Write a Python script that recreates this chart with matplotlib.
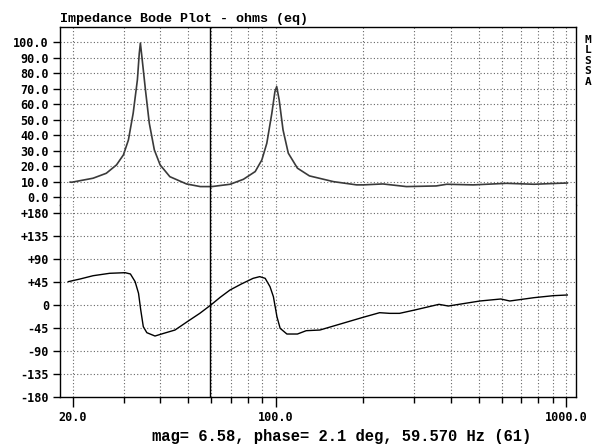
"""
Impedance Bode plot (MLSSA style)
"""

import matplotlib
matplotlib.use('Agg')
import matplotlib.pyplot as plt
from matplotlib.ticker import FixedLocator, FixedFormatter, NullFormatter

# magnitude curve, ohms
mag_freq = [19.6, 19.85, 23.5, 26.1, 28.3, 29.9, 31.1, 32.3, 33.4, 33.9, 34.2,
            34.6, 35.6, 36.7, 38.2, 40.0, 43.2, 49.3, 55.0, 57.7, 60.3, 69.7,
            77.4, 85, 89.6, 93.2, 97, 99.4, 100.8, 102.8, 106, 110.5, 118.8,
            130.7, 158, 190, 200, 234, 282, 357, 388, 479, 623, 776, 935, 1010]
mag_vals = [9.8, 9.7, 12.3, 15.5, 20.9, 27.4, 37, 54.3, 75.9, 93, 99.6,
            91, 69.4, 47.9, 30.6, 20.9, 13.3, 8.6, 6.9, 6.9, 6.9, 8.4,
            11.6, 16.6, 24.1, 34.9, 54.3, 68.3, 71.5, 62.9, 43.5, 28.5, 18.8,
            13.8, 10.1, 8.0, 8.0, 8.6, 6.9, 7.3, 8.4, 8.0, 9.0, 8.4, 9.0, 9.2]

# phase curve, degrees
ph_freq = [19.3, 21.2, 23.5, 26.8, 30.3, 31.6, 32.8, 33.7, 34.3, 35.0, 36.0,
           38.4, 41.2, 45, 50, 54.8, 59.8, 64.4, 69.6, 76.2, 83.6, 88.1, 92,
           95.6, 98.2, 101, 103.6, 109.3, 118.8, 127.4, 142, 200, 228, 247, 267,
           301, 365, 393, 505, 596, 640, 776, 905, 1010]
ph_vals = [45.5, 50.7, 57.1, 61.8, 63, 60.5, 45.5, 22.8, -9.8, -42.3, -54,
           -60.5, -55.2, -48.8, -31.2, -16.2, 0, 15, 29.2, 41, 52, 55.3, 52,
           35.7, 16.2, -22.8, -45.5, -56.6, -56.6, -50.1, -48.8, -24, -15, -16.3, -16.3,
           -9.8, 1.3, -2, 7.8, 11.7, 7.8, 14.3, 18.2, 19.5]

cursor_freq = 59.57
mag_ticks = [0, 10, 20, 30, 40, 50, 60, 70, 80, 90, 100]
mag_labels = ['%.1f' % v for v in mag_ticks]
ph_ticks = [-180, -135, -90, -45, 0, 45, 90, 135, 180]
ph_labels = ['-180', '-135', '-90', '-45', '0', '+45', '+90', '+135', '+180']
x_grid = [20, 30, 40, 50, 60, 70, 80, 90, 100, 200, 300, 400, 500, 600, 700, 800, 900, 1000]
x_major = [20, 100, 1000]
x_labels = ['20.0', '100.0', '1000.0']

W, H = 593, 448
fig = plt.figure(figsize=(W / 100, H / 100), dpi=100)

left = 60 / W
width = (576 - 60) / W
split = 1 - 205 / H
top = 1 - 27 / H
bottom = 1 - 397.3 / H

ax_m = fig.add_axes([left, split, width, top - split])
ax_p = fig.add_axes([left, bottom, width, split - bottom], sharex=ax_m)

tick_font = dict(family='DejaVu Sans Mono', weight='bold', size=8.5)
grid_kw = dict(color='#666666', linestyle=(0, (1, 2)), linewidth=0.8)

for ax in (ax_m, ax_p):
    ax.set_xscale('log')
    ax.set_xlim(18.08, 1082)
    for f in x_grid:
        ax.axvline(f, zorder=0, **grid_kw)
    ax.axvline(cursor_freq, color='black', linewidth=1.0, zorder=3)
    for s in ax.spines.values():
        s.set_linewidth(1.0)
    ax.tick_params(axis='y', direction='out', length=5, width=1, pad=3)

ax_m.spines['bottom'].set_visible(False)
ax_p.spines['top'].set_visible(False)

# magnitude
ax_m.set_ylim(-5, 110)
ax_m.plot(mag_freq, mag_vals, color='#3a3a3a', linewidth=1.2, zorder=2)
for v in mag_ticks:
    ax_m.axhline(v, zorder=0, **grid_kw)
ax_m.yaxis.set_major_locator(FixedLocator(mag_ticks))
ax_m.yaxis.set_major_formatter(FixedFormatter(mag_labels))
ax_m.tick_params(axis='x', which='both', bottom=False, labelbottom=False)

# phase
ax_p.set_ylim(-180, 195)
ax_p.plot(ph_freq, ph_vals, color='black', linewidth=1.0, zorder=2)
for v in ph_ticks[1:]:
    ax_p.axhline(v, zorder=0, **grid_kw)
ax_p.yaxis.set_major_locator(FixedLocator(ph_ticks))
ax_p.yaxis.set_major_formatter(FixedFormatter(ph_labels))

ax_p.xaxis.set_major_locator(FixedLocator(x_major))
ax_p.xaxis.set_major_formatter(FixedFormatter(x_labels))
ax_p.xaxis.set_minor_locator(FixedLocator([f for f in x_grid if f not in x_major]))
ax_p.xaxis.set_minor_formatter(NullFormatter())
ax_p.tick_params(axis='x', which='major', direction='out', length=7, width=1, pad=3)
ax_p.tick_params(axis='x', which='minor', direction='out', length=4, width=1)
for lab in ax_m.get_yticklabels() + ax_p.get_yticklabels() + ax_p.get_xticklabels():
    lab.set(**tick_font)

fig.text(60 / W, 1 - 22 / H, 'Impedance Bode Plot - ohms (eq)',
         family='Liberation Mono', weight='bold', size=9.6, va='baseline', ha='left')
fig.text(342 / W, 1 - 441 / H, 'mag= 6.58, phase= 2.1 deg, 59.570 Hz (61)',
         family='Liberation Mono', weight='bold', size=11.2, va='baseline', ha='center')
for i, ch in enumerate('MLSSA'):
    fig.text(588 / W, 1 - (43 + i * 10.4) / H, ch,
             family='DejaVu Sans Mono', weight='bold', size=8, va='baseline', ha='center')

fig.savefig('out.png', dpi=100)
